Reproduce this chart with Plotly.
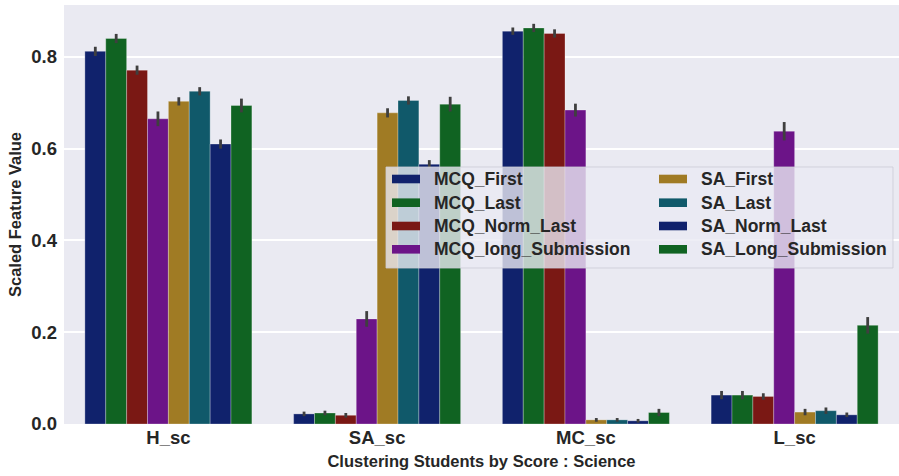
import plotly.graph_objects as go

categories = ["H_sc", "SA_sc", "MC_sc", "L_sc"]
series_names = ["MCQ_First", "MCQ_Last", "MCQ_Norm_Last", "MCQ_long_Submission",
                "SA_First", "SA_Last", "SA_Norm_Last", "SA_Long_Submission"]

mcq_first = [0.812, 0.022, 0.856, 0.063]
mcq_last = [0.840, 0.024, 0.863, 0.063]
mcq_norm_last = [0.771, 0.019, 0.851, 0.060]
mcq_long_submission = [0.665, 0.229, 0.684, 0.638]
sa_first = [0.703, 0.678, 0.009, 0.026]
sa_last = [0.725, 0.705, 0.009, 0.029]
sa_norm_last = [0.610, 0.566, 0.007, 0.020]
sa_long_submission = [0.694, 0.697, 0.025, 0.215]

mcq_first_err = [0.010, 0.005, 0.008, 0.009]
mcq_last_err = [0.010, 0.005, 0.009, 0.009]
mcq_norm_last_err = [0.010, 0.005, 0.009, 0.007]
mcq_long_submission_err = [0.016, 0.017, 0.014, 0.020]
sa_first_err = [0.009, 0.010, 0.004, 0.007]
sa_last_err = [0.009, 0.009, 0.004, 0.007]
sa_norm_last_err = [0.010, 0.009, 0.004, 0.005]
sa_long_submission_err = [0.015, 0.016, 0.008, 0.018]

y_ticks = [0.0, 0.2, 0.4, 0.6, 0.8]
x_title = "Clustering Students by Score : Science"
y_title = "Scaled Feature Value"

values = [mcq_first, mcq_last, mcq_norm_last, mcq_long_submission,
          sa_first, sa_last, sa_norm_last, sa_long_submission]
errors = [mcq_first_err, mcq_last_err, mcq_norm_last_err, mcq_long_submission_err,
          sa_first_err, sa_last_err, sa_norm_last_err, sa_long_submission_err]
colors = ["#10226c", "#106322", "#7a1814", "#6c1488",
          "#a07b24", "#10596a", "#10226c", "#106322"]

FONT = "Liberation Sans, Arial, sans-serif"
TXT = "#262626"
W, H = 899, 476
ML, MR, MT, MB = 64, 0, 5, 52
PW, PH = W - ML - MR, H - MT - MB

fig = go.Figure()
for name, v, e, c in zip(series_names, values, errors, colors):
    fig.add_trace(go.Bar(
        x=categories, y=v, name=name,
        marker=dict(color=c, line=dict(color="rgba(255,255,255,0.35)", width=0.8)),
        error_y=dict(type="data", array=e, visible=True, color="#3f3f3f",
                     thickness=2.8, width=0),
        showlegend=False,
    ))

def px(x):
    return (x - ML) / PW

def py(y):
    return (H - MB - y) / PH

shapes = []
annotations = []
# legend box
shapes.append(dict(type="rect", xref="paper", yref="paper",
                   x0=px(386), x1=px(893), y0=py(268), y1=py(167),
                   fillcolor="rgba(234,234,242,0.8)",
                   line=dict(color="rgba(204,204,214,0.8)", width=1),
                   layer="above"))
row_y = [179, 202.7, 226, 249.3]
col_sym = [392, 659]
col_txt = [432, 699]
for i, (name, c) in enumerate(zip(series_names, colors)):
    col, row = divmod(i, 4)
    yc = row_y[row]
    shapes.append(dict(type="rect", xref="paper", yref="paper",
                       x0=px(col_sym[col]), x1=px(col_sym[col] + 28),
                       y0=py(yc + 4.3), y1=py(yc - 4.3),
                       fillcolor=c, line=dict(width=0), layer="above"))
    annotations.append(dict(text=name, xref="paper", yref="paper",
                            x=px(col_txt[col]), y=py(yc), xanchor="left",
                            yanchor="middle", showarrow=False,
                            font=dict(family=FONT, size=17.5, color=TXT, weight="bold")))

fig.update_layout(
    width=W, height=H,
    margin=dict(l=ML, r=MR, t=MT, b=MB, pad=0, autoexpand=False),
    paper_bgcolor="white", plot_bgcolor="#eaeaf2",
    barmode="group", bargap=0.2, bargroupgap=0,
    font=dict(family=FONT, color=TXT),
    shapes=shapes, annotations=annotations,
    xaxis=dict(
        range=[-0.5, 3.5], showgrid=False, zeroline=False, showline=False,
        ticks="", automargin=False,
        tickfont=dict(size=18.5, color=TXT, weight="bold"),
        title=dict(text=x_title, standoff=8,
                   font=dict(size=16.5, color=TXT, weight="bold")),
    ),
    yaxis=dict(
        range=[0, 0.913], tickvals=y_ticks, tickformat=".1f",
        showgrid=True, gridcolor="white", gridwidth=1.5,
        zeroline=False, showline=False, ticks="", automargin=False,
        ticklabelstandoff=6,
        tickfont=dict(size=18.5, color=TXT, weight="bold"),
        title=dict(text=y_title, standoff=5,
                   font=dict(size=16.5, color=TXT, weight="bold")),
    ),
)

fig.write_html("out.html", config={"displayModeBar": False},
               post_script="document.body.style.margin='0';document.body.style.padding='0';")
